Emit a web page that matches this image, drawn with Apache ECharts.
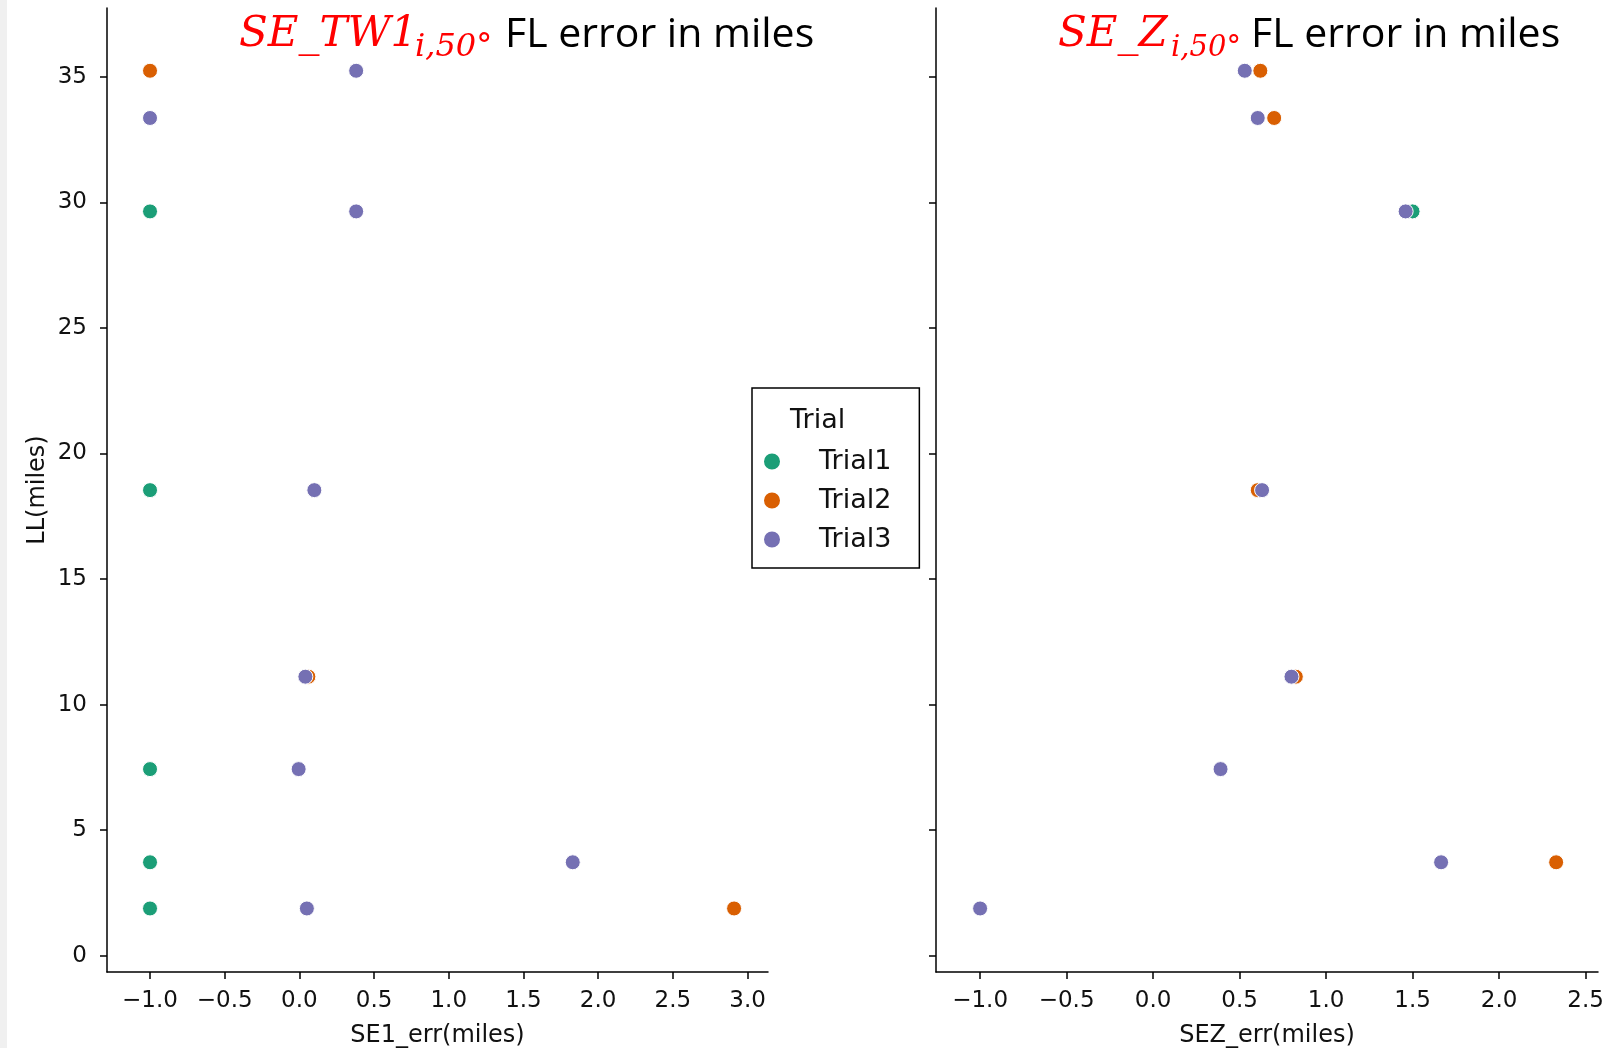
<!DOCTYPE html>
<html>
<head>
<meta charset="utf-8">
<script src="https://cdn.jsdelivr.net/npm/echarts@6/dist/echarts.min.js"></script>
<style>
body {
	margin: 0;
	background: #fff;
}

#chart {
	width: 1608px;
	height: 1048px;
}
</style>
</head>
<body>
<div id="chart"></div>
<script type="text/javascript">
	// LL(miles) 值，对应每一行点
	var llValues = [ 35.24, 33.36, 29.64, 18.54, 11.11, 7.43, 3.72, 1.88 ];

	// 左图 SE1_err(miles)，null 表示该 Trial 没有点
	var se1Trial1 = [ null, null, -1.0, -1.0, null, -1.0, -1.0, -1.0 ];
	var se1Trial2 = [ -1.0, null, null, null, 0.06, null, null, 2.91 ];
	var se1Trial3 = [ 0.38, -1.0, 0.38, 0.10, 0.04, -0.005, 1.83, 0.05 ];

	// 右图 SEZ_err(miles)
	var sezTrial1 = [ null, null, 1.50, null, null, null, null, null ];
	var sezTrial2 = [ 0.62, 0.70, null, 0.605, 0.825, null, 2.33, null ];
	var sezTrial3 = [ 0.53, 0.605, 1.46, 0.63, 0.80, 0.39, 1.665, -1.0 ];

	// 刻度
	var yTicks = [ 0, 5, 10, 15, 20, 25, 30, 35 ];
	var se1Ticks = [ -1.0, -0.5, 0.0, 0.5, 1.0, 1.5, 2.0, 2.5, 3.0 ];
	var sezTicks = [ -1.0, -0.5, 0.0, 0.5, 1.0, 1.5, 2.0, 2.5 ];

	var trialNames = [ 'Trial1', 'Trial2', 'Trial3' ];
	var trialColors = [ '#1b9e77', '#d95f02', '#7570b3' ];

	function toPoints(xs) {
		var pts = [];
		for (var i = 0; i < xs.length; ++i) {
			if (xs[i] !== null) {
				pts.push([ xs[i], llValues[i] ]);
			}
		}
		return pts;
	}

	function tickText(v) {
		return (v < 0 ? '\u2212' : '') + Math.abs(v).toFixed(1);
	}

	var axisLineStyle = {
		color : '#000',
		width : 1.5
	};

	function xAxisOf(gridIndex, min, max, ticks, name) {
		return {
			type : 'value',
			gridIndex : gridIndex,
			min : min,
			max : max,
			name : name,
			nameLocation : 'middle',
			nameGap : 52,
			nameTextStyle : {
				fontFamily : 'DejaVu Sans',
				fontSize : 24,
				color : '#111'
			},
			axisLine : {
				show : true,
				onZero : false,
				lineStyle : axisLineStyle
			},
			axisTick : {
				show : true,
				length : 7,
				lineStyle : axisLineStyle,
				customValues : ticks
			},
			axisLabel : {
				margin : 18,
				fontFamily : 'DejaVu Sans',
				fontSize : 23,
				color : '#111',
				customValues : ticks,
				formatter : tickText
			},
			splitLine : {
				show : false
			}
		};
	}

	function yAxisOf(gridIndex, showLabel) {
		return {
			type : 'value',
			gridIndex : gridIndex,
			min : -0.65,
			max : 37.74,
			name : showLabel ? 'LL(miles)' : '',
			nameLocation : 'middle',
			nameGap : 57,
			nameTextStyle : {
				fontFamily : 'DejaVu Sans',
				fontSize : 24,
				color : '#111'
			},
			axisLine : {
				show : true,
				onZero : false,
				lineStyle : axisLineStyle
			},
			axisTick : {
				show : true,
				length : 7,
				lineStyle : axisLineStyle,
				customValues : yTicks
			},
			axisLabel : {
				show : showLabel,
				margin : 20,
				fontFamily : 'DejaVu Sans',
				fontSize : 23,
				color : '#111',
				customValues : yTicks
			},
			splitLine : {
				show : false
			}
		};
	}

	var panels = [ [ se1Trial1, se1Trial2, se1Trial3 ], [ sezTrial1, sezTrial2, sezTrial3 ] ];
	var series = [];
	for (var p = 0; p < panels.length; ++p) {
		for (var t = 0; t < trialNames.length; ++t) {
			series.push({
				name : trialNames[t],
				type : 'scatter',
				xAxisIndex : p,
				yAxisIndex : p,
				symbolSize : 15,
				itemStyle : {
					color : trialColors[t],
					borderColor : '#fff',
					borderWidth : 1,
					opacity : 1
				},
				data : toPoints(panels[p][t])
			});
		}
	}

	var redMath = 'italic 42px "DejaVu Serif"';
	var redSub = 'italic 32px "DejaVu Serif"';
	var redSubSmall = 'italic 29px "DejaVu Serif"';
	var blackTitle = '41px "Open Sans"';

	var myChart = echarts.init(document.getElementById('chart'), null, {
		renderer : 'canvas'
	});
	var option = {
		backgroundColor : '#fff',
		animation : false,
		grid : [ {
			left : 107,
			top : 8,
			width : 661,
			height : 964,
			outerBoundsMode : 'none'
		}, {
			left : 936,
			top : 8,
			width : 662,
			height : 964,
			outerBoundsMode : 'none'
		} ],
		xAxis : [ xAxisOf(0, -1.288, 3.137, se1Ticks, 'SE1_err(miles)'),
				xAxisOf(1, -1.255, 2.572, sezTicks, 'SEZ_err(miles)') ],
		yAxis : [ yAxisOf(0, true), yAxisOf(1, false) ],
		legend : {
			data : trialNames,
			orient : 'vertical',
			left : 752,
			top : 388,
			padding : [ 60, 28, 15, 10 ],
			itemGap : 12,
			itemWidth : 18,
			itemHeight : 18,
			icon : 'circle',
			backgroundColor : '#fff',
			borderColor : '#000',
			borderWidth : 1.5,
			borderRadius : 0,
			textStyle : {
				fontFamily : 'DejaVu Sans',
				fontSize : 27,
				lineHeight : 27,
				color : '#111',
				padding : [ 0, 0, 0, 33 ]
			}
		},
		graphic : [ {
			type : 'rect',
			left : 0,
			top : 0,
			shape : {
				width : 7,
				height : 1048
			},
			style : {
				fill : '#f0f0f0'
			}
		}, {
			type : 'text',
			x : 239,
			y : 35,
			style : {
				text : 'SE_TW1',
				font : redMath,
				fill : '#ff0000',
				verticalAlign : 'middle'
			}
		}, {
			type : 'text',
			x : 415,
			y : 48,
			style : {
				text : 'i,50\u00b0',
				font : redSub,
				fill : '#ff0000',
				verticalAlign : 'middle'
			}
		}, {
			type : 'text',
			x : 505,
			y : 35,
			style : {
				text : 'FL error in miles',
				font : blackTitle,
				fill : '#000',
				verticalAlign : 'middle'
			}
		}, {
			type : 'text',
			x : 1058,
			y : 35,
			style : {
				text : 'SE_Z',
				font : redMath,
				fill : '#ff0000',
				verticalAlign : 'middle'
			}
		}, {
			type : 'text',
			x : 1171,
			y : 48,
			style : {
				text : 'i,50\u00b0',
				font : redSubSmall,
				fill : '#ff0000',
				verticalAlign : 'middle'
			}
		}, {
			type : 'text',
			x : 1251,
			y : 35,
			style : {
				text : 'FL error in miles',
				font : blackTitle,
				fill : '#000',
				verticalAlign : 'middle'
			}
		}, {
			// 图例标题
			type : 'text',
			x : 790,
			y : 421,
			z : 100,
			style : {
				text : 'Trial',
				font : '27px "DejaVu Sans"',
				fill : '#111',
				verticalAlign : 'middle'
			}
		} ],
		series : series
	};
	myChart.setOption(option);
</script>
</body>
</html>
